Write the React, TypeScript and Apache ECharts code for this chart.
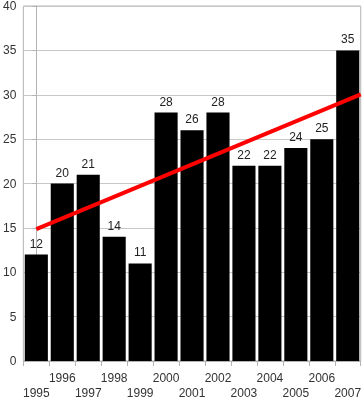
import React, { useEffect, useRef } from "react";
import * as echarts from "echarts";

const years = ["1995", "1996", "1997", "1998", "1999", "2000", "2001", "2002", "2003", "2004", "2005", "2006", "2007"];
const values = [12, 20, 21, 14, 11, 28, 26, 28, 22, 22, 24, 25, 35];
// trend line endpoints: [category position, value]
const trendPoints: [number, number][] = [[0, 14.85], [12.5, 30.05]];

export default function App() {
  const ref = useRef<HTMLDivElement>(null);
  useEffect(() => {
    const chart = echarts.init(ref.current!, null, { renderer: "svg" });
    chart.setOption({
      animation: false,
      grid: {
        left: 21, right: 3, top: 6, bottom: 36,
        show: true, borderColor: "#b3b3b3", borderWidth: 1,
      },
      textStyle: { fontFamily: "Liberation Sans, Arial, sans-serif" },
      xAxis: [
        {
          type: "category",
          data: years,
          axisLine: { lineStyle: { color: "#b3b3b3" } },
          axisTick: { show: true, length: 5, lineStyle: { color: "#b3b3b3" } },
          axisLabel: {
            interval: 0,
            margin: 9,
            color: "#333",
            fontSize: 12,
            lineHeight: 15,
            formatter: (v: string, i: number) => (i % 2 === 0 ? "\n" + v : v),
          },
        },
        { type: "value", min: -0.5, max: 12.5, show: false },
      ],
      yAxis: {
        type: "value",
        min: 0,
        max: 40,
        interval: 5,
        axisLine: { show: true, lineStyle: { color: "#b3b3b3" } },
        axisTick: { show: true, length: 4, lineStyle: { color: "#b3b3b3" } },
        axisLabel: { margin: 7, color: "#333", fontSize: 12 },
        splitLine: { lineStyle: { color: "#c8c8c8" } },
      },
      series: [
        {
          type: "bar",
          data: values,
          barCategoryGap: "11%",
          itemStyle: { color: "#000" },
          label: { show: true, position: "top", distance: 5, color: "#222", fontSize: 12 },
        },
        {
          type: "line",
          xAxisIndex: 1,
          data: trendPoints,
          symbol: "none",
          lineStyle: { color: "#ff0000", width: 4 },
        },
      ],
    });
    return () => chart.dispose();
  }, []);
  return <div ref={ref} style={{ position: "fixed", left: 0, top: 0, width: 364, height: 400 }} />;
}
